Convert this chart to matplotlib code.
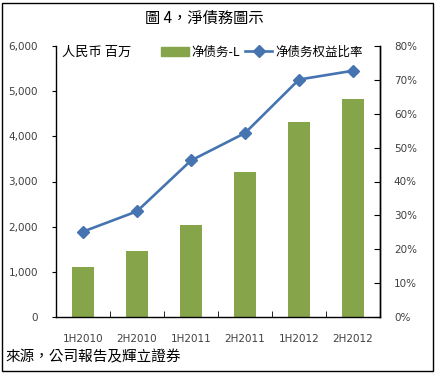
import matplotlib.pyplot as plt
import matplotlib.patches as mpatches
from matplotlib.lines import Line2D
from matplotlib.ticker import FuncFormatter
import numpy as np

plt.rcParams['font.family'] = ['Noto Sans CJK TC', 'DejaVu Sans']

# data
periods = ['1H2010', '2H2010', '1H2011', '2H2011', '1H2012', '2H2012']
net_debt = [1110, 1460, 2040, 3210, 4320, 4830]          # RMB mn
gearing = [25.2, 31.2, 46.2, 54.3, 70.1, 72.7]           # percent

bar_color = '#86A44A'
line_color = '#4674B0'
tick_color = '#404040'

fig = plt.figure(figsize=(4.36, 3.74), dpi=100)
ax = fig.add_axes([56 / 436, 1 - 317 / 374, 324 / 436, 271 / 374])
ax2 = ax.twinx()

x = np.arange(len(periods))
ax.bar(x, net_debt, width=0.42, color=bar_color, zorder=2)
ax2.plot(x, gearing, color=line_color, lw=1.9, marker='D', ms=6,
         mec=line_color, mfc=line_color, zorder=3)

ax.set_xlim(-0.5, len(periods) - 0.5)
ax.set_ylim(0, 6000)
ax.set_yticks(range(0, 6001, 1000))
ax.yaxis.set_major_formatter(FuncFormatter(lambda v, p: f'{int(v):,}'))
ax2.set_ylim(0, 80)
ax2.set_yticks(range(0, 81, 10))
ax2.yaxis.set_major_formatter(FuncFormatter(lambda v, p: f'{int(v)}%'))

# category labels centred, tick marks between categories
ax.set_xticks(x)
ax.set_xticklabels(periods)
ax.set_xticks(np.arange(0.5, len(periods) - 0.5, 1), minor=True)
ax.tick_params(axis='x', which='major', length=0, pad=12, labelsize=7.5,
               labelcolor=tick_color)
ax.tick_params(axis='x', which='minor', direction='in', length=4, color='black')
ax.tick_params(axis='y', direction='out', length=3, pad=10, labelsize=7.5,
               labelcolor=tick_color)
ax2.tick_params(axis='y', direction='in', length=4, pad=10, labelsize=7.5,
                labelcolor=tick_color)
for lab in ax.get_xticklabels() + ax.get_yticklabels() + ax2.get_yticklabels():
    lab.set_family('DejaVu Sans')

for a in (ax, ax2):
    a.spines['top'].set_visible(False)
    for s in a.spines.values():
        s.set_linewidth(1.0)
ax2.spines['left'].set_visible(False)
ax2.spines['bottom'].set_visible(False)

# title, unit, legend, source
fig.text(204 / 436, 1 - 18 / 374, '圖 4，淨債務圖示', ha='center', va='center',
         fontsize=11)
fig.text(62 / 436, 1 - 52 / 374, '人民币 百万', ha='left', va='center',
         fontsize=9.5, family=['Noto Sans CJK SC', 'DejaVu Sans'])

handles = [mpatches.Patch(color=bar_color, label='净债务-L'),
           Line2D([], [], color=line_color, lw=1.9, marker='D', ms=6,
                  label='净债务权益比率')]
leg = fig.legend(handles=handles, loc='center left',
                 bbox_to_anchor=(150 / 436, 1 - 52 / 374), ncol=2, frameon=False,
                 handlelength=2.2, handletextpad=0.2, columnspacing=0.4,
                 prop={'family': ['Noto Sans CJK SC', 'DejaVu Sans'], 'size': 9})

fig.text(5 / 436, 1 - 357 / 374, '來源，公司報告及輝立證券', ha='left',
         va='center', fontsize=10.5)

# outer frame
fig.add_artist(mpatches.Rectangle((2 / 436, 3 / 374), 431 / 436, 368 / 374,
                                  transform=fig.transFigure, fill=False,
                                  ec='black', lw=1.0))

fig.savefig('out.png', dpi=100)
